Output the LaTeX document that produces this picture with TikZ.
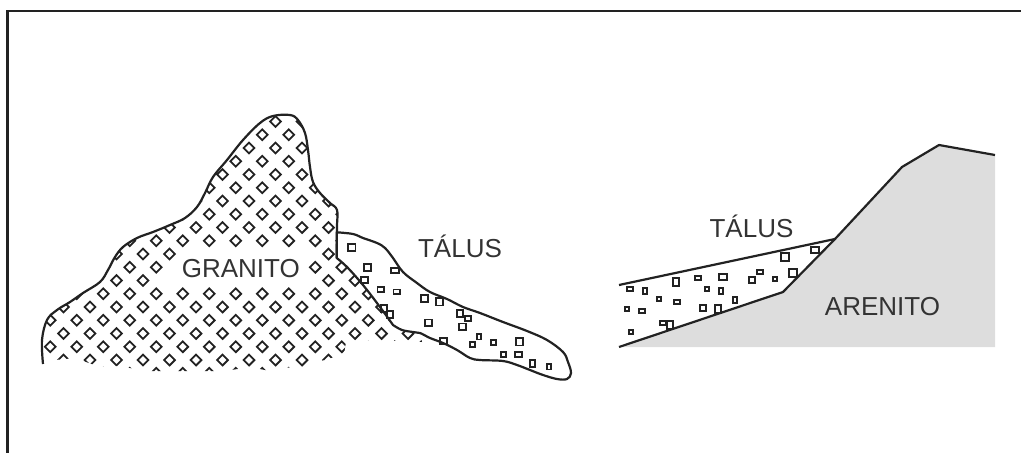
\documentclass[tikz,border=0pt]{standalone}
\usepackage{fontspec}
\setmainfont{Liberation Sans}
\definecolor{linha}{RGB}{34,34,34}
\definecolor{texto}{RGB}{51,51,51}
\definecolor{arenito}{RGB}{221,221,221}

\begin{document}
\begin{tikzpicture}[x=1pt,y=-1pt,
        contorno/.style={draw=linha,line width=2.2pt,line join=round},
        bloco/.style={draw=linha,line width=1.9pt},
        rotulo/.style={text=texto,font=\fontsize{26}{26}\selectfont,inner sep=0pt,anchor=base}]
    \useasboundingbox (0,0) rectangle (1021,453);
    % moldura
    \draw[linha,line width=2.4pt] (1021,11) -- (7.5,11) -- (7.5,453);

    % granito
    \begin{scope}
        \clip plot[smooth,tension=.6] coordinates {(43,364) (42,340) (47,320) (57,310) (70,302) (83,293) (100,282) (108,270) (115,257) (123,247) (137,238) (153,232) (170,225) (185,218) (197,207) (205,193) (213,177) (227,160) (243,140) (260,123) (273,116) (290,115) (298,120) (305,133) (308,150) (310,167) (313,182) (320,193) (330,203) (337,210) (337,227) (336.7,258)}
            -- (420,330) -- (422,342) -- (372,340) -- (346,342) -- (344,354) -- (331,358) -- (318,362) -- (305,367) -- (292,367) -- (270,371) -- (250,367) -- (225,371) -- (145,371) -- (120,366) -- (100,367) -- (75,358) -- (55,360) -- cycle;
        \foreach \i in {-20,...,6}
            \foreach \j in {-6,...,15} {
                \pgfmathsetmacro\px{355+26.5*\i+13.25*\j}
                \pgfmathsetmacro\py{307-13.25*\j}
                % sem losangos atras do rotulo
                \pgfmathtruncatemacro\livre{and(and(\j>1,\j<5),and(\px>160+20*(\j==4),\px<310))}
                \ifnum\livre=0
                    \draw[bloco] (\px,\py) ++(0,-5.4) -- ++(5.4,5.4) -- ++(-5.4,5.4) -- ++(-5.4,-5.4) -- cycle;
                \fi
            }
    \end{scope}
    \draw[contorno] plot[smooth,tension=.6] coordinates {(43,364) (42,340) (47,320) (57,310) (70,302) (83,293) (100,282) (108,270) (115,257) (123,247) (137,238) (153,232) (170,225) (185,218) (197,207) (205,193) (213,177) (227,160) (243,140) (260,123) (273,116) (290,115) (298,120) (305,133) (308,150) (310,167) (313,182) (320,193) (330,203) (337,210) (337,227) (336.7,258)};
    \node[rotulo] (granito) at (240.8,277) {GRANITO};

    % talus junto ao granito
    \filldraw[contorno,fill=white] (336.7,258) -- plot[smooth,tension=.6] coordinates {(336.7,232.3) (353,234) (363,238) (377,243) (385,248) (393,258) (403,272) (417,283) (430,292) (447,299) (463,307) (480,313) (503,322) (527,331) (547,340) (563,352) (568,362) (571,373) (567,379) (557,379) (543,375) (530,370) (517,365) (503,361) (480,360) (470,358) (457,350) (443,343) (430,338) (420,333) (413,332) (402,330) (393,325)}
        -- plot[smooth,tension=.6] coordinates {(393,325) (380,307) (363,285) (347,267) (336.7,258)} -- cycle;
    \foreach \x/\y/\w/\h in {351.7/247.3/7.5/7.5, 367.3/267.3/7.5/7.5, 395/270.3/7.5/5.5, 364.3/280/6.5/6.5, 380.7/289.3/6.5/4.5,
            396.7/291.7/6.5/4.5, 424.3/298.3/6.5/6.5, 439.3/301.7/7.5/7.5, 384/308.3/6.5/6.5, 390/314.3/6.5/6.5, 460/313.3/6.5/6.5,
            468/318.3/5.5/5.5, 428.3/322.7/6.5/6.5, 462.3/326.7/6.5/6.5, 443.3/341/7.5/5.5, 479/336.7/4.5/5.5, 472.3/344.3/5.5/5.5,
            493.3/342.3/4.5/5.5, 519.3/341.7/7.5/7.5, 503.3/354.3/4.5/5.5, 518.3/354.3/6.5/5.5, 532.3/363.3/5.5/7.5, 549/366.7/4.5/5.5}
        \draw[bloco] ({\x-\w/2},{\y-\h/2}) rectangle +(\w,\h);
    \node[rotulo] (talus1) at (460,257) {TÁLUS};

    % arenito e talus
    \fill[arenito] (619,347) -- (783,292) -- (835,239) -- (902,167) -- (939,145) -- (995,155) -- (995,347) -- cycle;
    \draw[contorno] (619,347) -- (783,292) -- (835,239) -- (902,167) -- (939,145) -- (995,155);
    \draw[contorno] (619,285) -- (835,239);
    \foreach \x/\y/\w/\h in {630/289/5.5/3.5, 645/291/4.5/5.5, 676/282/5.5/7.5, 698/278/5.5/4.5, 723/277/7.5/5.5, 707/289/4.5/3.5,
            721/291/3.5/5.5, 752/280/6.5/6.5, 760/272/5.5/3.5, 775/279/3.5/3.5, 793/273/7.5/7.5, 785/257/7.5/7.5, 815/250/7.5/5.5,
            659/299/4.5/3.5, 677/302/5.5/3.5, 735/300/3.5/5.5, 627/309/3.5/4.5, 642/311/5.5/4.5, 703/308/5.5/5.5, 718/309/5.5/7.5,
            663/323/5.5/3.5, 670/325/6.5/7.5, 631/332/3.5/4.5}
        \draw[bloco] ({\x-\w/2},{\y-\h/2}) rectangle +(\w,\h);
    \node[rotulo] (talus2) at (751.5,237) {TÁLUS};
    \node[rotulo] (arenito) at (882.5,315) {ARENITO};
\end{tikzpicture}
\end{document}
